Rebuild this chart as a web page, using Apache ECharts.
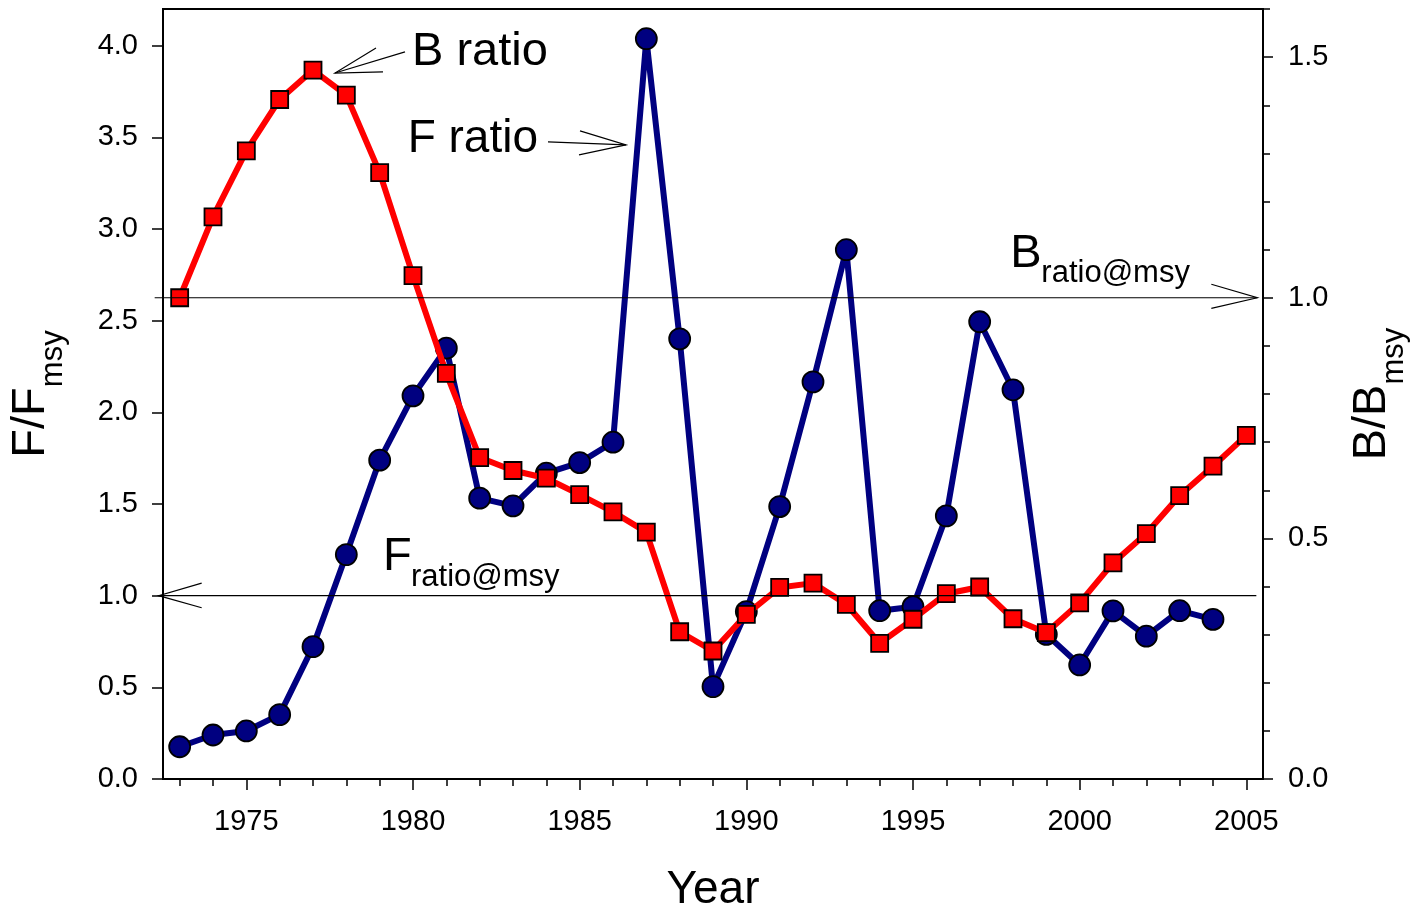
<!DOCTYPE html>
<html><head><meta charset="utf-8">
<script src="https://cdn.jsdelivr.net/npm/echarts@6/dist/echarts.min.js"></script>
<style>html,body{margin:0;padding:0;background:#fff}#c{width:1420px;height:911px}</style>
</head><body><div id="c"></div>
<script>
// ---- data ----
const years = [1973,1974,1975,1976,1977,1978,1979,1980,1981,1982,1983,1984,1985,1986,1987,1988,1989,1990,1991,1992,1993,1994,1995,1996,1997,1998,1999,2000,2001,2002,2003,2004,2005];
const fRatio = [0.176,0.240,0.262,0.351,0.722,1.224,1.739,2.090,2.350,1.532,1.490,1.668,1.726,1.837,4.038,2.401,0.504,0.913,1.486,2.166,2.887,0.918,0.940,1.435,2.494,2.123,0.789,0.622,0.917,0.779,0.918,0.871];
const bRatio = [1.000,1.168,1.305,1.412,1.473,1.421,1.260,1.046,0.843,0.668,0.641,0.625,0.591,0.555,0.513,0.306,0.266,0.342,0.398,0.407,0.363,0.282,0.332,0.385,0.399,0.333,0.304,0.366,0.449,0.510,0.589,0.650,0.714];
const yearLabels = [1975,1980,1985,1990,1995,2000,2005];
const leftTicks = [0,0.5,1.0,1.5,2.0,2.5,3.0,3.5,4.0];
const rightMajor = [0,0.5,1.0,1.5];
const rightMinor = [0,0.1,0.2,0.3,0.4,0.5,0.6,0.7,0.8,0.9,1.0,1.1,1.2,1.3,1.4,1.5,1.6];
const fMsy = 1.0;
const bMsy = 1.0;

const FONT = 'Liberation Sans, Arial, sans-serif';
const chart = echarts.init(document.getElementById('c'), null, {renderer:'canvas'});

const fData = fRatio.map((v,i)=>[years[i], v]);
const bData = bRatio.map((v,i)=>[years[i], v]);

const lbl = {color:'#000', fontSize:29, fontFamily:FONT};
chart.setOption({
  animation:false,
  backgroundColor:'#fff',
  grid:{left:163, right:157, top:9, bottom:132, show:true, borderColor:'#000', borderWidth:2,
        containLabel:false, outerBoundsMode:'none'},
  xAxis:[
    {type:'value', position:'bottom', min:1972.5, max:2005.5,
     axisLine:{onZero:false, lineStyle:{color:'#000', width:2}},
     axisTick:{customValues:years, length:7, lineStyle:{color:'#000', width:1.5}},
     axisLabel:{show:false}, splitLine:{show:false}},
    {type:'value', position:'bottom', min:1972.5, max:2005.5,
     axisLine:{show:false, onZero:false},
     axisTick:{customValues:yearLabels, length:11, lineStyle:{color:'#000', width:1.5}},
     axisLabel:Object.assign({customValues:yearLabels, margin:28, formatter:v=>String(v)}, lbl),
     splitLine:{show:false},
     name:'Year', nameLocation:'middle', nameGap:88,
     nameTextStyle:{fontSize:46, fontFamily:FONT, color:'#000'}}
  ],
  yAxis:[
    {type:'value', position:'left', min:0, max:4.2,
     axisLine:{show:true, onZero:false, lineStyle:{color:'#000', width:2}},
     axisTick:{show:true, customValues:leftTicks, length:11, lineStyle:{color:'#000', width:1.5}},
     axisLabel:Object.assign({customValues:leftTicks, margin:25, formatter:v=>v.toFixed(1)}, lbl),
     splitLine:{show:false},
     name:'{a|F/F}{b|msy}', nameLocation:'middle', nameRotate:90, nameGap:108,
     nameTextStyle:{rich:{
       a:{fontSize:47, fontFamily:FONT, color:'#000', lineHeight:47, verticalAlign:'top'},
       b:{fontSize:31, fontFamily:FONT, color:'#000', lineHeight:31, verticalAlign:'top', padding:[30,0,0,0]}
     }}},
    {type:'value', position:'right', min:0, max:1.6,
     axisLine:{show:true, onZero:false, lineStyle:{color:'#000', width:2}},
     axisTick:{show:true, customValues:rightMajor, length:10, lineStyle:{color:'#000', width:1.5}},
     axisLabel:Object.assign({customValues:rightMajor, margin:25, formatter:v=>v.toFixed(1)}, lbl),
     splitLine:{show:false},
     name:'{a|B/B}{b|msy}', nameLocation:'middle', nameRotate:90, nameGap:86,
     nameTextStyle:{rich:{
       a:{fontSize:47, fontFamily:FONT, color:'#000', lineHeight:47, verticalAlign:'top'},
       b:{fontSize:31, fontFamily:FONT, color:'#000', lineHeight:31, verticalAlign:'top', padding:[30,0,0,0]}
     }}},
    {type:'value', position:'right', min:0, max:1.6,
     axisLine:{show:false, onZero:false},
     axisTick:{show:true, customValues:rightMinor, length:7, lineStyle:{color:'#000', width:1.5}},
     axisLabel:{show:false}, splitLine:{show:false}}
  ],
  series:[
    {name:'F ratio', type:'line', xAxisIndex:0, yAxisIndex:0, data:fData,
     symbol:'circle', symbolSize:21, showAllSymbol:true,
     lineStyle:{color:'#000080', width:6},
     itemStyle:{color:'#000080', borderColor:'#000', borderWidth:1.8}, z:2},
    {name:'B ratio', type:'line', xAxisIndex:0, yAxisIndex:1, data:bData,
     symbol:'rect', symbolSize:17, showAllSymbol:true,
     lineStyle:{color:'#ff0000', width:6},
     itemStyle:{color:'#ff0000', borderColor:'#000', borderWidth:1.8}, z:3}
  ]
});

// ---- annotations (positioned in data space) ----
const L = p => chart.convertToPixel({xAxisIndex:0, yAxisIndex:0}, p);
const R = p => chart.convertToPixel({xAxisIndex:0, yAxisIndex:1}, p);
function txt(pt, text, size){
  return {type:'text', x:pt[0], y:pt[1], z:100,
    style:{text:text, fontSize:size, fontFamily:FONT, fill:'#000', align:'left', verticalAlign:'middle'}};
}
function pl(points, w){
  return {type:'polyline', z:100, shape:{points:points}, style:{stroke:'#000', lineWidth:w||1, fill:null}};
}
const g = [];
// reference lines
g.push(pl([L([1972.37, fMsy]), L([2005.3, fMsy])], 1.2));
g.push(pl([R([1972.25, bMsy]), R([2005.33, bMsy])], 1.2));
// F msy arrow head (pointing left)
g.push(pl([L([1973.66,1.068]), L([1972.37, fMsy]), L([1973.66,0.934])], 1.2));
// B msy arrow head (pointing right)
g.push(pl([R([2003.95,1.028]), R([2005.33, bMsy]), R([2003.95,0.978])], 1.2));
// B ratio label + arrow
g.push(txt(L([1979.97,3.965]), 'B ratio', 47));
g.push(pl([L([1979.76,3.966]), L([1977.66,3.851])], 1.2));
g.push(pl([L([1978.89,3.987]), L([1977.66,3.851]), L([1979.10,3.857])], 1.2));
// F ratio label + arrow
g.push(txt(L([1979.84,3.49]), 'F ratio', 46));
g.push(pl([L([1984.05,3.475]), L([1986.39,3.459])], 1.2));
g.push(pl([L([1985.01,3.535]), L([1986.39,3.459]), L([1984.98,3.404])], 1.2));
// F ratio@msy label
g.push(txt(L([1979.10,1.212]), 'F', 47));
g.push(txt(L([1979.94,1.097]), 'ratio@msy', 31));
// B ratio@msy label
g.push(txt(R([1997.92,1.090]), 'B', 47));
g.push(txt(R([1998.85,1.050]), 'ratio@msy', 31));
chart.setOption({graphic:g});
</script>
</body></html>
